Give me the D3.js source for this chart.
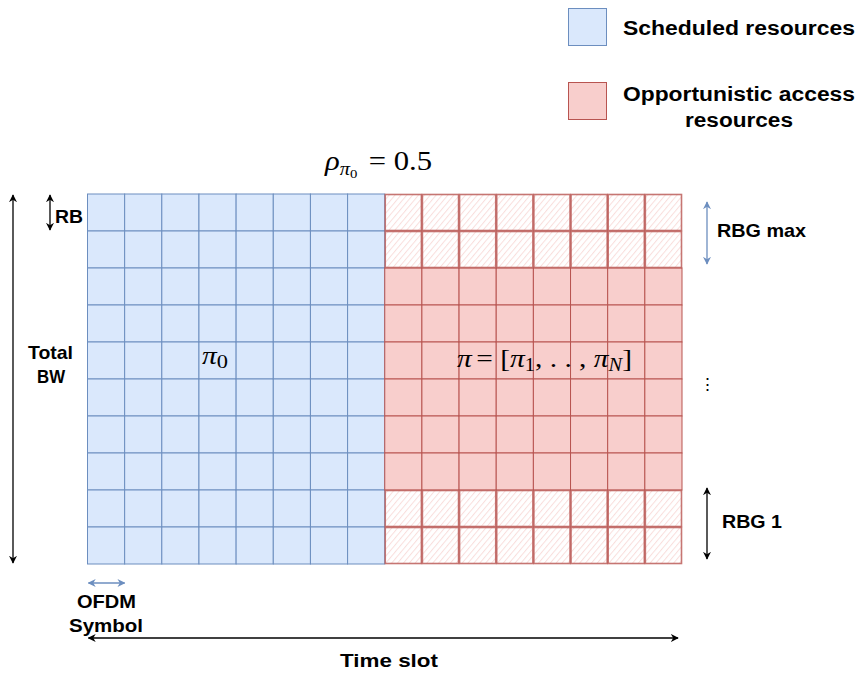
<!DOCTYPE html>
<html><head><meta charset="utf-8">
<script src="https://cdn.jsdelivr.net/npm/d3@7"></script>
<style>
html,body{margin:0;padding:0;background:#fff;}
svg{display:block;}
.lbl{font-family:"Liberation Sans",Arial,sans-serif;font-weight:bold;font-size:19px;fill:#000;}
.math{font-family:"Liberation Serif","Times New Roman",serif;fill:#000;}
</style></head>
<body>
<script>
// ---- data ----
const symbols = ["s1","s2","s3","s4","s5","s6","s7","s8","s9","s10","s11","s12","s13","s14","s15","s16"];
const resourceBlocks = ["rb10","rb9","rb8","rb7","rb6","rb5","rb4","rb3","rb2","rb1"];
const allocation = ["scheduled","scheduled","scheduled","scheduled","scheduled","scheduled","scheduled","scheduled",
  "opportunistic","opportunistic","opportunistic","opportunistic","opportunistic","opportunistic","opportunistic","opportunistic"];
const hatchedBlocks = ["rb10","rb9","rb2","rb1"];
const legendItems = ["Scheduled resources","Opportunistic access resources"];
const rho = "0.5";

const W = 860, H = 675;
const svg = d3.select("body").append("svg").attr("width", W).attr("height", H);
const defs = svg.append("defs");

const pat = defs.append("pattern").attr("id","hatch").attr("patternUnits","userSpaceOnUse")
  .attr("width",4.5).attr("height",4.5).attr("patternTransform","rotate(40)");
pat.append("rect").attr("width",4.5).attr("height",4.5).attr("fill","#fff");
pat.append("line").attr("x1",0).attr("y1",0).attr("x2",0).attr("y2",4.5)
  .attr("stroke","#f9dedc").attr("stroke-width",2);

function marker(id, color){
  const m = defs.append("marker").attr("id",id).attr("viewBox","0 0 10 10")
    .attr("refX",9).attr("refY",5).attr("markerWidth",8).attr("markerHeight",8)
    .attr("orient","auto-start-reverse").attr("markerUnits","userSpaceOnUse");
  m.append("path").attr("d","M0,0 L10,5 L0,10 L3,5 Z").attr("fill",color);
}
marker("ab","#000");
marker("abb","#6c8ebf");

const x = d3.scaleBand().domain(symbols).range([87.5, 682]).paddingInner(0);
const y = d3.scaleBand().domain(resourceBlocks).range([194, 564]).paddingInner(0);

const colors = {scheduled:{fill:"#dae8fc",stroke:"#6c8ebf"}, opportunistic:{fill:"#f8cecc",stroke:"#b85450"}};

const cells = [];
symbols.forEach((s,i)=>resourceBlocks.forEach(r=>cells.push({s, r, type:allocation[i],
  hatched: allocation[i]==="opportunistic" && hatchedBlocks.includes(r)})));

const g = svg.append("g");
g.selectAll("rect.cell").data(cells.filter(d=>!d.hatched)).join("rect").attr("class","cell")
  .attr("x",d=>x(d.s)).attr("y",d=>y(d.r)).attr("width",x.bandwidth()).attr("height",y.bandwidth())
  .attr("fill",d=>colors[d.type].fill).attr("stroke",d=>colors[d.type].stroke).attr("stroke-width",1);
g.selectAll("rect.hcell").data(cells.filter(d=>d.hatched)).join("rect").attr("class","hcell")
  .attr("x",d=>x(d.s)+0.5).attr("y",d=>y(d.r)+0.5).attr("width",x.bandwidth()-1).attr("height",y.bandwidth()-1)
  .attr("fill","url(#hatch)").attr("stroke","#b85450").attr("stroke-width",1.6).attr("stroke-opacity",0.8);

// legend
const leg = svg.append("g");
leg.append("rect").attr("x",568.5).attr("y",8.5).attr("width",38).attr("height",37)
  .attr("fill",colors.scheduled.fill).attr("stroke",colors.scheduled.stroke);
leg.append("rect").attr("x",568.5).attr("y",82.5).attr("width",38).attr("height",37)
  .attr("fill",colors.opportunistic.fill).attr("stroke",colors.opportunistic.stroke);
leg.append("text").attr("class","lbl").attr("x",623).attr("y",35).style("font-size","20px")
  .attr("textLength",232).attr("lengthAdjust","spacingAndGlyphs").text(legendItems[0]);
leg.append("text").attr("class","lbl").attr("x",623).attr("y",101).style("font-size","20px")
  .attr("textLength",232).attr("lengthAdjust","spacingAndGlyphs").text("Opportunistic access");
leg.append("text").attr("class","lbl").attr("x",685).attr("y",127).style("font-size","20px")
  .attr("textLength",108).attr("lengthAdjust","spacingAndGlyphs").text("resources");

// rho label
const rt = svg.append("text").attr("class","math").attr("x",325).attr("y",170).style("font-size","27px")
  .attr("textLength",107).attr("lengthAdjust","spacingAndGlyphs");
rt.append("tspan").style("font-style","italic").text("ρ");
rt.append("tspan").attr("dy",5).style("font-size","18px").style("font-style","italic").text("π");
rt.append("tspan").attr("dy",3).style("font-size","13px").text("0");
rt.append("tspan").attr("dy",-8).attr("dx",10).text("= " + rho);

// pi0
const p0 = svg.append("text").attr("class","math").attr("x",202).attr("y",364).style("font-size","25px")
  .attr("textLength",26).attr("lengthAdjust","spacingAndGlyphs");
p0.append("tspan").style("font-style","italic").text("π");
p0.append("tspan").attr("dy",4).style("font-size","19px").text("0");

// pi vector
const pv = svg.append("text").attr("class","math").attr("x",457).attr("y",367).style("font-size","26px")
  .attr("textLength",175).attr("lengthAdjust","spacingAndGlyphs");
pv.append("tspan").style("font-style","italic").text("π");
pv.append("tspan").attr("dx",4).text("= [");
pv.append("tspan").style("font-style","italic").text("π");
pv.append("tspan").attr("dy",4).style("font-size","18px").text("1");
pv.append("tspan").attr("dy",-4).text(", . . , ");
pv.append("tspan").style("font-style","italic").text("π");
pv.append("tspan").attr("dy",4).style("font-size","18px").style("font-style","italic").text("N");
pv.append("tspan").attr("dy",-4).text("]");

// arrows
function arrow(x1,y1,x2,y2,color,mk,w){
  svg.append("line").attr("x1",x1).attr("y1",y1).attr("x2",x2).attr("y2",y2)
    .attr("stroke",color).attr("stroke-width",w||1.3)
    .attr("marker-start",`url(#${mk})`).attr("marker-end",`url(#${mk})`);
}
arrow(13,y.range()[0]+1,13,y.range()[1]-1,"#000","ab");
arrow(50,y("rb10")+1,50,y("rb10")+y.bandwidth()-1,"#000","ab");
arrow(707,y("rb10")+8,707,y("rb9")+y.bandwidth()-4,"#6c8ebf","abb");
arrow(707,y("rb2")-2,707,y("rb1")+y.bandwidth()-5,"#000","ab");
arrow(x("s1")+1,583,x("s1")+x.bandwidth(),583,"#6c8ebf","abb");
arrow(x("s1")+1,638,678,638,"#000","ab");

// labels
function lbl(t,xx,yy,len){
  return svg.append("text").attr("class","lbl").attr("x",xx).attr("y",yy)
    .attr("textLength",len).attr("lengthAdjust","spacingAndGlyphs").text(t);
}
lbl("RB",55,223,28);
lbl("Total",28,359,45);
lbl("BW",37,383,28);
lbl("RBG max",717,237,89);
lbl("RBG 1",722,528,60);
lbl("OFDM",77,608,59);
lbl("Symbol",69,632,74);
lbl("Time slot",340,667,98);
svg.append("text").attr("class","lbl").attr("x",707).attr("y",390).attr("text-anchor","middle").style("font-weight","normal").style("font-size","17px").text("⋮");
</script>
</body></html>
